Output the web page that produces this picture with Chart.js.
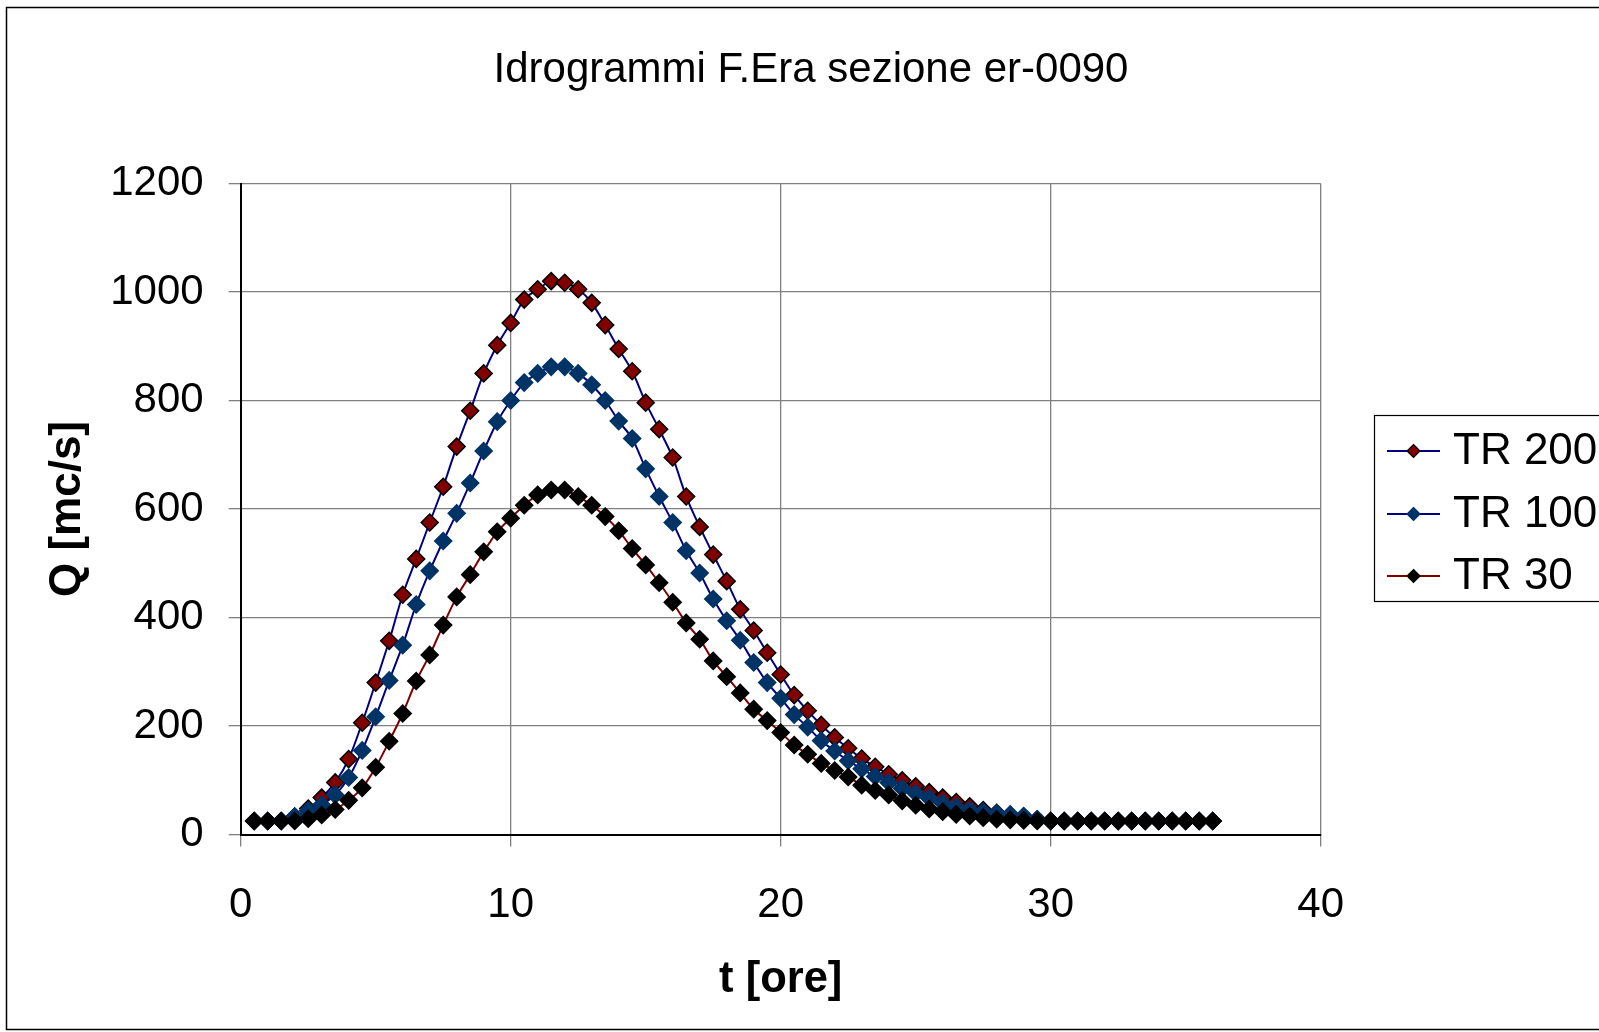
<!DOCTYPE html>
<html><head><meta charset="utf-8">
<script src="https://cdn.jsdelivr.net/npm/chart.js@4"></script>
<style>html,body{margin:0;padding:0;background:#fff;overflow:hidden}</style>
</head><body>
<canvas id="c" width="1599" height="1032"></canvas>
<script>
const chartTitle = 'Idrogrammi F.Era sezione er-0090';
const xTitle = 't [ore]';
const yTitle = 'Q [mc/s]';
const seriesNames = ['TR 200', 'TR 100', 'TR 30'];
const times = [0.5,1,1.5,2,2.5,3,3.5,4,4.5,5,5.5,6,6.5,7,7.5,8,8.5,9,9.5,10,
  10.5,11,11.5,12,12.5,13,13.5,14,14.5,15,15.5,16,16.5,17,17.5,18,18.5,19,19.5,20,
  20.5,21,21.5,22,22.5,23,23.5,24,24.5,25,25.5,26,26.5,27,27.5,28,28.5,29,29.5,30,
  30.5,31,31.5,32,32.5,33,33.5,34,34.5,35,35.5,36];
const tr200 = [25,25,25,33,48,68,96,139,206,280,357,442,508,575,641,715,781,850,902,943,
  986,1005,1020,1017,1005,980,939,895,854,796,747,695,623,567,516,467,415,376,335,295,
  257,228,202,179,159,140,125,111,100,89,78,68,60,52,45,40,36,33,28,25,
  25,25,25,25,25,25,25,25,25,25,25,25];
const tr100 = [25,25,25,33,44,55,73,105,155,217,284,349,424,486,541,592,648,707,761,800,
  833,850,862,862,850,829,800,762,730,674,623,575,523,482,434,394,358,317,280,251,
  221,198,173,154,136,121,107,96,85,76,67,58,51,45,42,39,37,34,28,25,
  25,25,25,25,25,25,25,25,25,25,25,25];
const tr30 = [25,25,25,25,29,36,46,63,86,124,172,223,283,331,386,438,479,521,558,583,
  607,626,635,635,623,607,586,560,527,497,464,428,390,360,320,291,261,231,210,188,
  165,148,131,118,106,91,81,73,62,54,47,42,37,34,31,28,27,26,25,25,
  25,25,25,25,25,25,25,25,25,25,25,25];
const xMin = 0, xMax = 40, xStep = 10;
const yMin = 0, yMax = 1200, yStep = 200;

const FONT = '"Liberation Sans", Arial, sans-serif';
const pts = arr => times.map((t, i) => ({x: t, y: arr[i]}));

const styles = [
  {line: '#000080', fill: '#800000', edge: '#000000', order: 2},
  {line: '#000080', fill: '#003366', edge: '#003366', order: 1},
  {line: '#800000', fill: '#000000', edge: '#000000', order: 0}
];
const values = [tr200, tr100, tr30];

const datasets = values.map((v, i) => ({
  label: seriesNames[i],
  data: pts(v),
  showLine: true,
  borderColor: styles[i].line,
  borderWidth: 2,
  tension: 0.3,
  pointStyle: 'rectRot',
  pointRadius: 8.5,
  pointHoverRadius: 8.5,
  pointBackgroundColor: styles[i].fill,
  pointBorderColor: styles[i].edge,
  pointBorderWidth: 1.5,
  order: styles[i].order
}));

const decor = {
  id: 'decor',
  beforeDraw(chart) {
    const ctx = chart.ctx;
    ctx.save();
    ctx.fillStyle = '#fff';
    ctx.fillRect(0, 0, chart.width, chart.height);
    ctx.strokeStyle = '#000';
    ctx.lineWidth = 1.5;
    ctx.strokeRect(6.5, 7.5, 1700, 1022);
    ctx.restore();
  },
  afterDraw(chart) {
    const ctx = chart.ctx;
    ctx.save();
    ctx.fillStyle = '#000';
    ctx.font = '42px ' + FONT;
    ctx.textAlign = 'center';
    ctx.textBaseline = 'middle';
    ctx.fillText(chartTitle, 811, 70);
    // legend
    ctx.strokeStyle = '#000';
    ctx.lineWidth = 1.2;
    ctx.strokeRect(1374.5, 415.5, 400, 186);
    const ys = [451, 514, 576];
    chart.data.datasets.forEach((ds, i) => {
      const y = ys[i];
      ctx.strokeStyle = ds.borderColor;
      ctx.lineWidth = 2;
      ctx.beginPath(); ctx.moveTo(1387, y); ctx.lineTo(1440, y); ctx.stroke();
      const r = 6.5, cx = 1413.5;
      ctx.beginPath();
      ctx.moveTo(cx, y - r); ctx.lineTo(cx + r, y); ctx.lineTo(cx, y + r); ctx.lineTo(cx - r, y); ctx.closePath();
      ctx.fillStyle = ds.pointBackgroundColor; ctx.fill();
      ctx.strokeStyle = ds.pointBorderColor; ctx.lineWidth = 1.2; ctx.stroke();
      ctx.fillStyle = '#000';
      ctx.font = '44px ' + FONT;
      ctx.textAlign = 'left';
      ctx.textBaseline = 'middle';
      ctx.fillText(ds.label, 1453, y + 1);
    });
    ctx.restore();
  }
};

new Chart(document.getElementById('c'), {
  type: 'scatter',
  data: {datasets},
  options: {
    responsive: false,
    devicePixelRatio: 1,
    animation: false,
    layout: {padding: {top: 183.5, right: 278.3, left: 0, bottom: 0}},
    plugins: {legend: {display: false}, title: {display: false}, tooltip: {enabled: false}},
    scales: {
      x: {
        type: 'linear', min: xMin, max: xMax,
        afterFit(s) { s.height = 197.5; },
        ticks: {stepSize: xStep, color: '#000', font: {family: FONT, size: 42}, padding: 34, maxRotation: 0,
          callback: v => String(v)},
        grid: {color: '#808080', lineWidth: 1.3, tickLength: 12, tickColor: '#808080'},
        border: {color: '#000', width: 2},
        title: {display: true, text: xTitle, color: '#000', font: {family: FONT, size: 43.5, weight: 'bold'}, padding: {top: 0, bottom: 26}}
      },
      y: {
        type: 'linear', min: yMin, max: yMax,
        afterFit(s) { s.width = 240.7; },
        ticks: {stepSize: yStep, color: '#000', font: {family: FONT, size: 42}, padding: 25,
          callback: v => String(v)},
        grid: {color: '#808080', lineWidth: 1.3, tickLength: 12, tickColor: '#808080'},
        border: {color: '#000', width: 2},
        title: {display: true, text: yTitle, color: '#000', font: {family: FONT, size: 44, weight: 'bold'}, padding: {top: 41, bottom: 0}}
      }
    }
  },
  plugins: [decor]
});
</script>
</body></html>
